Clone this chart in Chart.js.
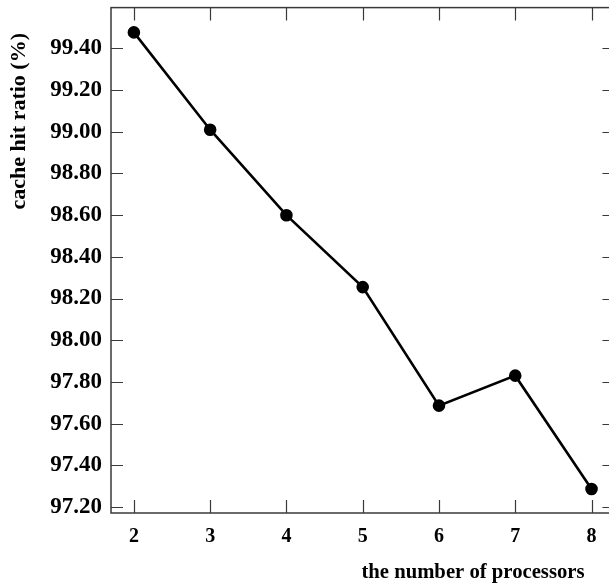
<!DOCTYPE html>
<html>
<head>
<meta charset="utf-8">
<script src="https://cdn.jsdelivr.net/npm/chart.js@4.4.1/dist/chart.umd.min.js"></script>
<style>
  html, body { margin: 0; padding: 0; background: #fff; overflow: hidden; }
  #wrap { width: 609px; height: 588px; position: relative; overflow: hidden; }
</style>
</head>
<body>
<div id="wrap"><canvas id="c" width="622" height="588"></canvas></div>
<script>
const processors = [2, 3, 4, 5, 6, 7, 8];
const hitRatio = [99.477, 99.01, 98.60, 98.255, 97.686, 97.83, 97.286];
const xTicks = [2, 3, 4, 5, 6, 7, 8];
const yTicks = [97.2, 97.4, 97.6, 97.8, 98.0, 98.2, 98.4, 98.6, 98.8, 99.0, 99.2, 99.4];
const xTitle = 'the number of processors';
const yTitle = 'cache hit ratio (%)';

const FONT = '"Liberation Serif", "Times New Roman", serif';
const AXIS = '#3a3a3a';

const framePlugin = {
  id: 'frame',
  afterDraw(chart) {
    const { ctx, chartArea: a, scales } = chart;
    const x = scales.x, y = scales.y;
    ctx.save();
    ctx.strokeStyle = AXIS;
    ctx.lineWidth = 1.5;
    ctx.strokeRect(a.left, a.top, a.right - a.left, a.bottom - a.top);
    ctx.lineWidth = 1.2;
    ctx.beginPath();
    x.ticks.forEach(t => {
      const px = Math.round(x.getPixelForValue(t.value)) + 0.5;
      ctx.moveTo(px, a.bottom); ctx.lineTo(px, a.bottom - 13);
      ctx.moveTo(px, a.top); ctx.lineTo(px, a.top + 13);
    });
    y.ticks.forEach(t => {
      const py = Math.round(y.getPixelForValue(t.value)) + 0.5;
      ctx.moveTo(a.left, py); ctx.lineTo(a.left + 12, py);
      ctx.moveTo(a.right, py); ctx.lineTo(a.right - 12, py);
    });
    ctx.stroke();
    ctx.fillStyle = '#000';
    ctx.font = 'bold 20.7px ' + FONT;
    ctx.textAlign = 'right';
    ctx.textBaseline = 'middle';
    ctx.fillText(xTitle, x.getPixelForValue(8) - 7, 573);
    ctx.font = 'bold 22px ' + FONT;
    ctx.translate(19, 33);
    ctx.rotate(-Math.PI / 2);
    ctx.textAlign = 'right';
    ctx.fillText(yTitle, 0, 0);
    ctx.restore();
  }
};

new Chart(document.getElementById('c'), {
  type: 'line',
  data: {
    datasets: [{
      data: processors.map((p, i) => ({ x: p, y: hitRatio[i] })),
      borderColor: '#000',
      backgroundColor: '#000',
      borderWidth: 2.6,
      pointRadius: 5,
      pointHoverRadius: 5,
      tension: 0
    }]
  },
  options: {
    responsive: false,
    animation: false,
    events: [],
    layout: { padding: { top: 4, right: 0, left: 0, bottom: 0 } },
    plugins: { legend: { display: false }, tooltip: { enabled: false } },
    scales: {
      x: {
        type: 'linear',
        min: 1.7, max: 8.3,
        grid: { display: false, drawTicks: false },
        border: { display: false },
        afterBuildTicks: s => { s.ticks = xTicks.map(v => ({ value: v })); },
        afterFit: s => { s.height = 75; s.paddingLeft = 0; s.paddingRight = 0; },
        ticks: {
          padding: 12,
          color: '#000',
          font: { family: FONT, size: 20, weight: 'bold' },
          callback: v => String(v)
        }
      },
      y: {
        type: 'linear',
        min: 97.171, max: 99.596,
        grid: { display: false, drawTicks: false },
        border: { display: false },
        afterBuildTicks: s => { s.ticks = yTicks.map(v => ({ value: v })); },
        afterFit: s => { s.width = 111; s.paddingTop = 0; s.paddingBottom = 0; },
        ticks: {
          padding: 9,
          color: '#000',
          font: { family: FONT, size: 23, weight: 'bold' },
          callback: v => Number(v).toFixed(2)
        }
      }
    }
  },
  plugins: [framePlugin]
});
</script>
</body>
</html>
